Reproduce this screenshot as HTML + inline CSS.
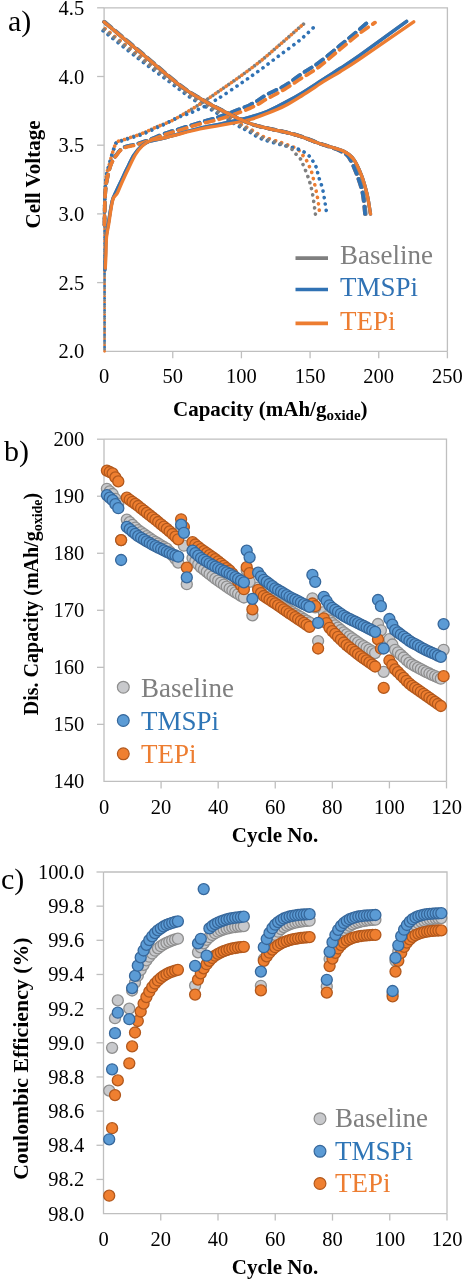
<!DOCTYPE html>
<html><head><meta charset="utf-8"><style>
html,body{margin:0;padding:0;background:#fff;width:464px;height:1280px;overflow:hidden}
svg{display:block;will-change:transform}
text{font-family:"Liberation Serif", serif}
</style></head><body>
<svg width="464" height="1280" viewBox="0 0 464 1280">
<rect width="464" height="1280" fill="#fff"/>
<path d="M104.1,7.8H447.4V351.3" fill="none" stroke="#bfbfbf" stroke-width="1.3"/>
<path d="M104.1,7.8V351.3H447.4" fill="none" stroke="#bfbfbf" stroke-width="1.3"/>
<path d="M97.1,7.8H104.1" stroke="#bfbfbf" stroke-width="1.3"/>
<path d="M97.1,76.5H104.1" stroke="#bfbfbf" stroke-width="1.3"/>
<path d="M97.1,145.20000000000002H104.1" stroke="#bfbfbf" stroke-width="1.3"/>
<path d="M97.1,213.9H104.1" stroke="#bfbfbf" stroke-width="1.3"/>
<path d="M97.1,282.6H104.1" stroke="#bfbfbf" stroke-width="1.3"/>
<path d="M172.76,351.3V358.3" stroke="#bfbfbf" stroke-width="1.3"/>
<path d="M241.42,351.3V358.3" stroke="#bfbfbf" stroke-width="1.3"/>
<path d="M310.0799999999999,351.3V358.3" stroke="#bfbfbf" stroke-width="1.3"/>
<path d="M378.74,351.3V358.3" stroke="#bfbfbf" stroke-width="1.3"/>
<path d="M447.4,351.3V358.3" stroke="#bfbfbf" stroke-width="1.3"/>
<path d="M104.6,351.3V220" stroke="#ed7d31" stroke-width="2.8" stroke-linecap="round" stroke-dasharray="0.1 6" fill="none"/>
<path d="M104.6,351.3V220" stroke="#3072b4" stroke-width="2.8" stroke-linecap="round" stroke-dasharray="0.1 6" stroke-dashoffset="2" fill="none"/>
<path d="M104.6,351.3V220" stroke="#7f7f7f" stroke-width="2.8" stroke-linecap="round" stroke-dasharray="0.1 6" stroke-dashoffset="4" fill="none"/>
<path d="M105.1,28.6 C111.1,33.3 129.8,48.2 141.0,56.9 C152.2,65.5 163.8,73.9 172.6,80.5 C181.4,87.1 186.9,91.8 194.1,96.5 C201.3,101.2 208.5,104.8 215.7,109.0 C222.9,113.2 231.3,118.6 237.2,122.0 C243.1,125.4 246.7,127.1 251.0,129.5 C255.3,131.9 258.3,134.4 263.3,136.6 C268.3,138.8 275.5,140.5 281.0,142.5 C286.5,144.5 292.8,146.6 296.2,148.4 C299.6,150.2 299.7,151.8 301.3,153.6 C302.9,155.4 304.6,157.3 305.9,159.4 C307.2,161.5 308.1,163.6 309.1,165.9 C310.1,168.2 310.6,168.2 311.9,173.0 C313.2,177.8 315.7,188.4 317.0,195.0 C318.3,201.6 319.2,209.6 319.6,212.5" fill="none" stroke="#ed7d31" stroke-width="3.6" stroke-linecap="round" stroke-dasharray="0.1 6.3"/>
<path d="M103.1,30.8 C109.1,35.5 127.8,50.5 139.0,59.1 C150.2,67.8 161.8,76.1 170.6,82.7 C179.4,89.3 184.9,94.0 192.1,98.7 C199.3,103.5 206.5,107.0 213.7,111.2 C220.9,115.5 229.3,120.8 235.2,124.2 C241.1,127.6 244.7,129.3 249.0,131.7 C253.3,134.1 256.3,136.7 261.3,138.8 C266.3,140.9 274.4,142.9 279.0,144.2 C283.6,145.5 286.0,146.0 289.0,146.8 C292.0,147.5 294.3,147.8 296.8,148.7 C299.3,149.5 301.8,150.6 303.9,151.9 C306.0,153.2 308.1,154.8 309.7,156.5 C311.3,158.2 312.4,160.3 313.6,162.3 C314.8,164.3 316.0,166.4 316.8,168.7 C317.6,170.9 317.3,172.2 318.3,175.8 C319.3,179.3 321.4,183.7 322.8,190.0 C324.2,196.3 326.1,209.6 326.7,213.5" fill="none" stroke="#3072b4" stroke-width="3.6" stroke-linecap="round" stroke-dasharray="0.1 6.3"/>
<path d="M104.1,29.6 C110.1,34.3 128.8,49.2 140.0,57.9 C151.2,66.5 162.8,74.9 171.6,81.5 C180.4,88.1 185.9,92.8 193.1,97.5 C200.3,102.2 207.5,105.8 214.7,110.0 C221.9,114.2 230.3,119.6 236.2,123.0 C242.1,126.4 245.7,128.1 250.0,130.5 C254.3,132.9 257.3,135.4 262.3,137.6 C267.3,139.8 275.4,141.8 280.0,143.5 C284.6,145.2 287.6,146.0 290.0,147.5 C292.4,149.0 292.9,151.0 294.5,152.7 C296.1,154.4 298.3,155.9 299.7,157.8 C301.1,159.7 301.5,161.0 302.9,164.3 C304.3,167.6 306.8,173.2 308.3,177.8 C309.9,182.4 311.0,186.1 312.2,192.1 C313.4,198.1 314.9,210.4 315.4,214.1" fill="none" stroke="#7f7f7f" stroke-width="3.6" stroke-linecap="round" stroke-dasharray="0.1 6.3"/>
<path d="M104.5,225.0 C104.5,220.8 104.5,208.0 104.8,200.0 C105.1,192.0 105.4,183.1 106.2,176.9 C107.0,170.8 108.6,167.4 109.7,163.1 C110.8,158.8 111.9,154.4 113.1,151.0 C114.2,147.6 115.0,144.2 116.6,142.4 C118.2,140.6 120.4,141.0 122.6,140.2 C124.8,139.4 126.9,138.7 129.5,137.8 C132.1,136.9 135.2,136.0 138.1,135.0 C141.0,134.0 143.8,132.8 146.7,131.6 C149.6,130.3 152.4,128.8 155.3,127.5 C158.2,126.2 160.7,125.4 164.0,124.0 C167.3,122.6 169.0,122.3 175.0,119.0 C181.0,115.7 192.5,108.8 200.0,104.0 C207.5,99.2 213.3,95.1 220.0,90.5 C226.7,85.9 233.3,81.3 240.0,76.5 C246.7,71.7 253.3,66.8 260.0,61.5 C266.7,56.2 273.3,50.2 280.0,44.5 C286.7,38.8 295.7,30.7 300.0,27.0 C304.3,23.3 304.7,23.1 305.6,22.3" fill="none" stroke="#7f7f7f" stroke-width="3.6" stroke-linecap="round" stroke-dasharray="0.1 6.3"/>
<path d="M104.5,225.0 C104.5,220.8 104.5,208.0 104.8,200.0 C105.1,192.0 105.4,183.1 106.2,176.9 C107.0,170.8 108.6,167.4 109.7,163.1 C110.8,158.8 111.9,154.4 113.1,151.0 C114.2,147.6 115.0,144.1 116.6,142.4 C118.2,140.7 120.4,141.4 122.6,140.7 C124.8,140.0 126.9,139.1 129.5,138.3 C132.1,137.5 135.2,136.8 138.1,135.8 C141.0,134.9 143.8,133.8 146.7,132.6 C149.6,131.4 152.6,129.8 155.3,128.5 C158.0,127.2 159.2,126.8 163.0,125.0 C166.8,123.2 172.7,119.8 178.0,117.5 C183.3,115.2 188.8,113.8 195.0,111.0 C201.2,108.2 207.5,105.0 215.0,100.5 C222.5,96.0 232.5,89.1 240.0,84.0 C247.5,78.9 253.3,74.8 260.0,70.0 C266.7,65.2 273.3,60.0 280.0,55.0 C286.7,50.0 294.2,44.8 300.0,40.0 C305.8,35.2 312.3,28.6 314.8,26.3" fill="none" stroke="#3072b4" stroke-width="3.6" stroke-linecap="round" stroke-dasharray="0.1 6.3"/>
<path d="M104.5,225.0 C104.5,220.8 104.5,208.0 104.8,200.0 C105.1,192.0 105.4,183.1 106.2,176.9 C107.0,170.8 108.6,167.4 109.7,163.1 C110.8,158.8 111.9,154.4 113.1,151.0 C114.2,147.6 115.0,144.2 116.6,142.4 C118.2,140.6 120.4,141.0 122.6,140.2 C124.8,139.4 126.9,138.7 129.5,137.8 C132.1,136.9 135.2,136.0 138.1,135.0 C141.0,134.0 143.8,132.8 146.7,131.6 C149.6,130.3 152.4,128.8 155.3,127.5 C158.2,126.2 160.7,125.4 164.0,124.0 C167.3,122.6 169.0,122.3 175.0,119.0 C181.0,115.7 192.5,108.8 200.0,104.0 C207.5,99.2 213.3,95.1 220.0,90.5 C226.7,85.9 233.3,81.3 240.0,76.5 C246.7,71.7 253.3,66.8 260.0,61.5 C266.7,56.2 273.3,50.2 280.0,44.5 C286.7,38.8 295.7,30.7 300.0,27.0 C304.3,23.3 304.7,23.1 305.6,22.3" fill="none" stroke="#ed7d31" stroke-width="3.6" stroke-linecap="round" stroke-dasharray="0.1 6.3" stroke-dashoffset="3.1"/>
<path d="M104.5,225.0 C104.6,219.6 104.7,200.7 105.3,192.4 C105.9,184.1 106.9,180.1 107.9,175.2 C108.9,170.3 110.0,166.5 111.4,163.1 C112.9,159.7 114.6,157.1 116.6,154.5 C118.6,151.9 120.4,149.3 123.4,147.6 C126.4,145.9 130.8,145.7 134.7,144.5 C138.6,143.3 141.8,142.5 146.7,140.7 C151.6,138.9 159.3,135.5 164.0,133.8 C168.7,132.1 169.0,132.2 175.0,130.3 C181.0,128.4 192.5,124.8 200.0,122.5 C207.5,120.2 211.7,119.5 220.0,116.5 C228.3,113.5 242.2,108.5 250.0,104.8 C257.8,101.1 261.2,97.7 267.0,94.5 C272.8,91.3 278.7,89.4 284.5,85.9 C290.3,82.5 295.9,77.7 301.7,73.8 C307.4,69.9 312.6,67.3 319.0,62.6 C325.4,57.9 333.2,51.1 340.0,45.5 C346.8,39.9 355.2,33.1 360.0,29.0 C364.8,24.9 367.5,22.3 369.0,21.0" fill="none" stroke="#7f7f7f" stroke-width="3.7" stroke-linecap="round" stroke-dasharray="8.5 5.5"/>
<path d="M104.5,225.0 C104.6,219.6 104.7,200.7 105.3,192.4 C105.9,184.1 106.9,180.1 107.9,175.2 C108.9,170.3 110.0,166.5 111.4,163.1 C112.9,159.7 114.6,157.1 116.6,154.5 C118.6,151.9 120.4,149.3 123.4,147.6 C126.4,145.9 130.8,145.7 134.7,144.5 C138.6,143.3 141.8,142.5 146.7,140.7 C151.6,138.9 159.3,135.5 164.0,133.8 C168.7,132.1 169.0,132.2 175.0,130.3 C181.0,128.4 192.5,124.8 200.0,122.5 C207.5,120.2 211.7,119.5 220.0,116.5 C228.3,113.5 242.2,108.5 250.0,104.8 C257.8,101.1 261.2,97.7 267.0,94.5 C272.8,91.3 278.7,89.4 284.5,85.9 C290.3,82.5 295.9,77.7 301.7,73.8 C307.4,69.9 312.6,67.3 319.0,62.6 C325.4,57.9 333.2,51.1 340.0,45.5 C346.8,39.9 355.2,33.1 360.0,29.0 C364.8,24.9 367.5,22.3 369.0,21.0" fill="none" stroke="#3072b4" stroke-width="3.7" stroke-linecap="round" stroke-dasharray="8.5 5.5"/>
<path d="M104.5,225.0 C104.6,219.6 104.7,200.7 105.3,192.4 C105.9,184.1 106.9,180.0 107.9,175.2 C108.9,170.4 110.0,167.0 111.4,163.6 C112.9,160.2 114.6,157.6 116.6,155.0 C118.6,152.4 120.4,149.8 123.4,148.2 C126.4,146.6 130.8,146.4 134.7,145.3 C138.6,144.2 141.8,143.2 146.7,141.5 C151.6,139.8 159.3,136.7 164.0,135.0 C168.7,133.3 169.0,133.3 175.0,131.5 C181.0,129.7 192.5,126.1 200.0,124.0 C207.5,121.9 211.7,121.6 220.0,119.0 C228.3,116.4 242.2,111.7 250.0,108.3 C257.8,104.9 261.2,102.0 267.0,98.8 C272.8,95.6 278.7,92.8 284.5,89.3 C290.3,85.8 295.9,81.8 301.7,78.1 C307.4,74.4 312.6,71.7 319.0,66.9 C325.4,62.1 333.2,55.0 340.0,49.4 C346.8,43.8 354.2,37.6 360.0,33.1 C365.8,28.6 372.5,24.4 375.0,22.6" fill="none" stroke="#ed7d31" stroke-width="3.7" stroke-linecap="round" stroke-dasharray="8.5 5.5"/>
<path d="M104.1,21.9 C110.1,26.9 127.3,41.4 140.0,52.0 C152.7,62.6 170.0,77.8 180.0,85.5 C190.0,93.2 193.3,94.5 200.0,98.5 C206.7,102.5 211.7,105.3 220.0,109.5 C228.3,113.7 241.7,120.3 250.0,123.5 C258.3,126.7 263.3,127.2 270.0,128.8 C276.7,130.4 284.5,131.9 290.0,133.3 C295.5,134.7 298.7,135.7 303.0,137.2 C307.3,138.7 311.7,140.7 316.0,142.3 C320.3,143.9 325.0,145.3 329.0,146.7 C333.0,148.1 336.8,149.1 340.0,150.8 C343.2,152.5 345.8,153.3 348.5,157.0 C351.2,160.7 353.7,166.8 356.0,172.7 C358.3,178.5 360.8,185.2 362.3,192.1 C363.8,199.0 364.6,210.3 365.0,214.0" fill="none" stroke="#ed7d31" stroke-width="3.7" stroke-linecap="round" stroke-dasharray="8.5 5.5"/>
<path d="M104.9,21.9 C110.9,26.9 128.2,41.4 140.8,52.0 C153.5,62.6 170.8,77.8 180.8,85.5 C190.8,93.2 194.1,94.5 200.8,98.5 C207.5,102.5 212.5,105.3 220.8,109.5 C229.1,113.7 242.5,120.3 250.8,123.5 C259.1,126.7 264.1,127.2 270.8,128.8 C277.5,130.4 285.3,131.9 290.8,133.3 C296.3,134.7 299.5,135.7 303.8,137.2 C308.1,138.7 312.5,140.7 316.8,142.3 C321.1,143.9 325.8,145.3 329.8,146.7 C333.8,148.1 337.6,149.1 340.8,150.8 C344.1,152.5 346.6,153.3 349.3,157.0 C352.0,160.7 354.5,166.8 356.8,172.7 C359.1,178.5 361.6,185.2 363.1,192.1 C364.6,199.0 365.4,210.3 365.8,214.0" fill="none" stroke="#7f7f7f" stroke-width="3.7" stroke-linecap="round" stroke-dasharray="8.5 5.5"/>
<path d="M104.1,21.9 C110.1,26.9 127.3,41.4 140.0,52.0 C152.7,62.6 170.0,77.8 180.0,85.5 C190.0,93.2 193.3,94.5 200.0,98.5 C206.7,102.5 211.7,105.3 220.0,109.5 C228.3,113.7 241.7,120.3 250.0,123.5 C258.3,126.7 263.3,127.2 270.0,128.8 C276.7,130.4 284.5,131.9 290.0,133.3 C295.5,134.7 298.7,135.7 303.0,137.2 C307.3,138.7 311.7,140.7 316.0,142.3 C320.3,143.9 325.0,145.3 329.0,146.7 C333.0,148.1 336.8,149.1 340.0,150.8 C343.2,152.5 345.8,153.3 348.5,157.0 C351.2,160.7 353.7,166.8 356.0,172.7 C358.3,178.5 360.8,185.2 362.3,192.1 C363.8,199.0 364.6,210.3 365.0,214.0" fill="none" stroke="#3072b4" stroke-width="3.7" stroke-linecap="round" stroke-dasharray="8.5 5.5"/>
<path d="M104.9,270.0 C105.0,267.7 105.2,261.3 105.4,256.0 C105.6,250.7 105.6,243.6 106.1,238.0 C106.6,232.4 107.5,228.7 108.5,222.5 C109.5,216.3 111.0,206.1 112.2,201.0 C113.4,195.9 114.4,195.3 115.9,192.0 C117.4,188.7 119.2,184.9 121.1,181.0 C123.0,177.1 124.9,172.6 127.1,168.3 C129.2,164.0 131.7,158.6 134.0,155.0 C136.3,151.4 138.5,148.8 141.0,146.5 C143.5,144.2 145.2,142.9 149.0,141.5 C152.8,140.1 155.5,140.3 164.0,138.1 C172.5,135.8 190.7,130.3 200.0,128.0 C209.3,125.7 211.7,125.8 220.0,124.0 C228.3,122.2 242.2,119.1 250.0,117.0 C257.8,114.9 261.2,113.9 267.0,111.5 C272.8,109.1 279.1,105.6 285.0,102.5 C290.9,99.4 295.5,96.9 302.2,92.8 C308.9,88.7 318.7,82.1 325.0,78.1 C331.3,74.0 334.2,72.3 340.0,68.5 C345.8,64.7 348.9,63.1 360.0,55.2 C371.1,47.3 398.8,27.0 406.6,21.3" fill="none" stroke="#7f7f7f" stroke-width="3.3" stroke-linecap="round"/>
<path d="M104.9,270.0 C105.0,267.7 105.2,261.3 105.4,256.0 C105.6,250.7 105.6,243.6 106.1,238.0 C106.6,232.4 107.5,228.7 108.5,222.5 C109.5,216.3 111.0,206.1 112.2,201.0 C113.4,195.9 114.4,195.3 115.9,192.0 C117.4,188.7 119.2,184.9 121.1,181.0 C123.0,177.1 124.9,172.6 127.1,168.3 C129.2,164.0 131.7,158.6 134.0,155.0 C136.3,151.4 138.5,148.8 141.0,146.5 C143.5,144.2 145.2,142.9 149.0,141.5 C152.8,140.1 155.5,140.3 164.0,138.1 C172.5,135.8 190.7,130.3 200.0,128.0 C209.3,125.7 211.7,125.8 220.0,124.0 C228.3,122.2 242.2,119.1 250.0,117.0 C257.8,114.9 261.2,113.9 267.0,111.5 C272.8,109.1 279.1,105.6 285.0,102.5 C290.9,99.4 295.5,96.9 302.2,92.8 C308.9,88.7 318.7,82.1 325.0,78.1 C331.3,74.0 334.2,72.3 340.0,68.5 C345.8,64.7 348.9,63.1 360.0,55.2 C371.1,47.3 398.8,27.0 406.6,21.3" fill="none" stroke="#3072b4" stroke-width="3.3" stroke-linecap="round"/>
<path d="M105.3,268.0 C105.4,266.0 105.7,261.1 105.9,256.0 C106.1,250.9 106.0,243.1 106.5,237.5 C107.0,231.9 108.0,228.8 109.0,222.5 C110.0,216.2 111.3,204.9 112.8,200.0 C114.2,195.1 115.8,196.2 117.4,193.0 C119.0,189.8 120.7,185.1 122.6,181.0 C124.5,176.9 126.4,172.7 128.6,168.3 C130.8,163.9 133.2,158.2 135.5,154.5 C137.8,150.8 140.0,148.2 142.4,145.9 C144.8,143.6 146.6,142.0 150.2,140.7 C153.8,139.3 155.7,139.8 164.0,137.8 C172.3,135.9 190.7,131.1 200.0,129.0 C209.3,127.0 211.7,127.1 220.0,125.5 C228.3,123.9 242.2,121.5 250.0,119.5 C257.8,117.5 261.2,115.8 267.0,113.5 C272.8,111.2 279.1,108.7 285.0,105.7 C290.9,102.7 295.5,99.7 302.2,95.5 C308.9,91.3 318.7,84.7 325.0,80.7 C331.3,76.8 334.2,75.5 340.0,71.8 C345.8,68.1 347.7,67.1 360.0,58.8 C372.3,50.5 404.8,28.0 413.7,21.8" fill="none" stroke="#ed7d31" stroke-width="3.3" stroke-linecap="round"/>
<path d="M104.1,21.9 C110.1,26.9 127.3,41.4 140.0,52.0 C152.7,62.6 170.0,77.8 180.0,85.5 C190.0,93.2 193.3,94.5 200.0,98.5 C206.7,102.5 211.7,105.3 220.0,109.5 C228.3,113.7 241.7,120.3 250.0,123.5 C258.3,126.7 263.3,127.2 270.0,128.8 C276.7,130.4 284.5,131.9 290.0,133.3 C295.5,134.7 298.7,135.7 303.0,137.2 C307.3,138.7 311.7,140.8 316.0,142.3 C320.3,143.9 324.4,145.0 329.0,146.5 C333.6,148.0 339.6,149.2 343.7,151.3 C347.8,153.4 350.5,155.1 353.4,159.0 C356.3,162.9 358.9,168.8 361.2,174.6 C363.5,180.4 365.4,187.4 367.0,194.0 C368.6,200.6 369.9,210.7 370.5,214.0" fill="none" stroke="#7f7f7f" stroke-width="3.3" stroke-linecap="round"/>
<path d="M104.1,21.9 C110.1,26.9 127.3,41.4 140.0,52.0 C152.7,62.6 170.0,77.8 180.0,85.5 C190.0,93.2 193.3,94.5 200.0,98.5 C206.7,102.5 211.7,105.3 220.0,109.5 C228.3,113.7 241.7,120.3 250.0,123.5 C258.3,126.7 263.3,127.2 270.0,128.8 C276.7,130.4 284.5,131.9 290.0,133.3 C295.5,134.7 298.7,135.7 303.0,137.2 C307.3,138.7 311.7,140.8 316.0,142.3 C320.3,143.9 324.4,145.0 329.0,146.5 C333.6,148.0 339.6,149.2 343.7,151.3 C347.8,153.4 350.5,155.1 353.4,159.0 C356.3,162.9 358.9,168.8 361.2,174.6 C363.5,180.4 365.4,187.4 367.0,194.0 C368.6,200.6 369.9,210.7 370.5,214.0" fill="none" stroke="#3072b4" stroke-width="3.3" stroke-linecap="round"/>
<path d="M104.1,21.9 C110.1,26.9 127.3,41.4 140.0,52.0 C152.7,62.6 170.0,77.8 180.0,85.5 C190.0,93.2 193.3,94.5 200.0,98.5 C206.7,102.5 211.7,105.3 220.0,109.5 C228.3,113.7 241.7,120.3 250.0,123.5 C258.3,126.7 263.3,127.2 270.0,128.8 C276.7,130.4 284.5,131.9 290.0,133.3 C295.5,134.7 298.7,135.7 303.0,137.2 C307.3,138.7 311.7,140.8 316.0,142.3 C320.3,143.9 324.4,145.0 329.0,146.5 C333.6,148.0 339.6,149.2 343.7,151.3 C347.8,153.4 350.5,155.1 353.4,159.0 C356.3,162.9 358.9,168.8 361.2,174.6 C363.5,180.4 365.4,187.4 367.0,194.0 C368.6,200.6 369.9,210.7 370.5,214.0" fill="none" stroke="#ed7d31" stroke-width="3.3" stroke-linecap="round"/>
<text x="84.2" y="14.8" font-size="20.5" text-anchor="end" font-weight="normal" fill="#000">4.5</text>
<text x="84.2" y="83.5" font-size="20.5" text-anchor="end" font-weight="normal" fill="#000">4.0</text>
<text x="84.2" y="152.20000000000002" font-size="20.5" text-anchor="end" font-weight="normal" fill="#000">3.5</text>
<text x="84.2" y="220.9" font-size="20.5" text-anchor="end" font-weight="normal" fill="#000">3.0</text>
<text x="84.2" y="289.6" font-size="20.5" text-anchor="end" font-weight="normal" fill="#000">2.5</text>
<text x="84.2" y="358.3" font-size="20.5" text-anchor="end" font-weight="normal" fill="#000">2.0</text>
<text x="104.1" y="383" font-size="20.5" text-anchor="middle" font-weight="normal" fill="#000">0</text>
<text x="172.76" y="383" font-size="20.5" text-anchor="middle" font-weight="normal" fill="#000">50</text>
<text x="241.42" y="383" font-size="20.5" text-anchor="middle" font-weight="normal" fill="#000">100</text>
<text x="310.0799999999999" y="383" font-size="20.5" text-anchor="middle" font-weight="normal" fill="#000">150</text>
<text x="378.74" y="383" font-size="20.5" text-anchor="middle" font-weight="normal" fill="#000">200</text>
<text x="447.4" y="383" font-size="20.5" text-anchor="middle" font-weight="normal" fill="#000">250</text>
<text x="173" y="416" font-size="21" text-anchor="start" font-weight="bold" fill="#000">Capacity (mAh/g<tspan font-size="15" dy="4">oxide</tspan><tspan dy="-4">)</tspan></text>
<text transform="translate(39.5,174.5) rotate(-90)" font-size="21" font-weight="bold" text-anchor="middle">Cell Voltage</text>
<text x="8" y="31" font-size="30" text-anchor="start" font-weight="normal" fill="#000">a)</text>
<path d="M295.5,258.1H328" stroke="#7f7f7f" stroke-width="3.6"/>
<text x="340" y="263.8" font-size="27" text-anchor="start" font-weight="normal" fill="#7f7f7f">Baseline</text>
<path d="M295.5,289.5H328" stroke="#3072b4" stroke-width="3.6"/>
<text x="340" y="296.09999999999997" font-size="27" text-anchor="start" font-weight="normal" fill="#3072b4">TMSPi</text>
<path d="M295.5,323.4H328" stroke="#ed7d31" stroke-width="3.6"/>
<text x="340" y="329.7" font-size="27" text-anchor="start" font-weight="normal" fill="#ed7d31">TEPi</text>
<path d="M104.0,439.2H446.5V781.4" fill="none" stroke="#bfbfbf" stroke-width="1.3"/>
<path d="M104.0,439.2V781.4H446.5" fill="none" stroke="#bfbfbf" stroke-width="1.3"/>
<path d="M97.0,439.2H104.0" stroke="#bfbfbf" stroke-width="1.3"/>
<path d="M97.0,496.23333333333335H104.0" stroke="#bfbfbf" stroke-width="1.3"/>
<path d="M97.0,553.2666666666667H104.0" stroke="#bfbfbf" stroke-width="1.3"/>
<path d="M97.0,610.3H104.0" stroke="#bfbfbf" stroke-width="1.3"/>
<path d="M97.0,667.3333333333333H104.0" stroke="#bfbfbf" stroke-width="1.3"/>
<path d="M97.0,724.3666666666667H104.0" stroke="#bfbfbf" stroke-width="1.3"/>
<path d="M161.08333333333334,781.4V788.4" stroke="#bfbfbf" stroke-width="1.3"/>
<path d="M218.16666666666669,781.4V788.4" stroke="#bfbfbf" stroke-width="1.3"/>
<path d="M275.25,781.4V788.4" stroke="#bfbfbf" stroke-width="1.3"/>
<path d="M332.33333333333337,781.4V788.4" stroke="#bfbfbf" stroke-width="1.3"/>
<path d="M389.4166666666667,781.4V788.4" stroke="#bfbfbf" stroke-width="1.3"/>
<path d="M446.5,781.4V788.4" stroke="#bfbfbf" stroke-width="1.3"/>
<text x="84.2" y="446.2" font-size="20.5" text-anchor="end" font-weight="normal" fill="#000">200</text>
<text x="84.2" y="503.23333333333335" font-size="20.5" text-anchor="end" font-weight="normal" fill="#000">190</text>
<text x="84.2" y="560.2666666666667" font-size="20.5" text-anchor="end" font-weight="normal" fill="#000">180</text>
<text x="84.2" y="617.3" font-size="20.5" text-anchor="end" font-weight="normal" fill="#000">170</text>
<text x="84.2" y="674.3333333333333" font-size="20.5" text-anchor="end" font-weight="normal" fill="#000">160</text>
<text x="84.2" y="731.3666666666667" font-size="20.5" text-anchor="end" font-weight="normal" fill="#000">150</text>
<text x="84.2" y="788.4" font-size="20.5" text-anchor="end" font-weight="normal" fill="#000">140</text>
<text x="104.0" y="813.5" font-size="20.5" text-anchor="middle" font-weight="normal" fill="#000">0</text>
<text x="161.08333333333334" y="813.5" font-size="20.5" text-anchor="middle" font-weight="normal" fill="#000">20</text>
<text x="218.16666666666669" y="813.5" font-size="20.5" text-anchor="middle" font-weight="normal" fill="#000">40</text>
<text x="275.25" y="813.5" font-size="20.5" text-anchor="middle" font-weight="normal" fill="#000">60</text>
<text x="332.33333333333337" y="813.5" font-size="20.5" text-anchor="middle" font-weight="normal" fill="#000">80</text>
<text x="389.4166666666667" y="813.5" font-size="20.5" text-anchor="middle" font-weight="normal" fill="#000">100</text>
<text x="446.5" y="813.5" font-size="20.5" text-anchor="middle" font-weight="normal" fill="#000">120</text>
<text x="275" y="842" font-size="21" text-anchor="middle" font-weight="bold" fill="#000">Cycle No.</text>
<text transform="translate(37.5,604) rotate(-90)" font-size="20" font-weight="bold" text-anchor="middle">Dis. Capacity (mAh/g<tspan font-size="14" dy="4">oxide</tspan><tspan dy="-4">)</tspan></text>
<text x="4" y="460.5" font-size="30" text-anchor="start" font-weight="normal" fill="#000">b)</text>
<g fill="#c8c9cc" stroke="#8e8e8e" stroke-width="1.3"><circle cx="106.9" cy="488.8" r="5.5"/><circle cx="109.7" cy="491.4" r="5.5"/><circle cx="112.6" cy="494.0" r="5.5"/><circle cx="115.4" cy="498.8" r="5.5"/><circle cx="118.3" cy="503.6" r="5.5"/><circle cx="126.8" cy="519.6" r="5.5"/><circle cx="129.7" cy="522.2" r="5.5"/><circle cx="132.5" cy="524.9" r="5.5"/><circle cx="135.4" cy="527.6" r="5.5"/><circle cx="138.2" cy="530.2" r="5.5"/><circle cx="141.1" cy="532.1" r="5.5"/><circle cx="144.0" cy="534.1" r="5.5"/><circle cx="146.8" cy="536.1" r="5.5"/><circle cx="149.7" cy="538.1" r="5.5"/><circle cx="152.5" cy="540.1" r="5.5"/><circle cx="155.4" cy="541.8" r="5.5"/><circle cx="158.2" cy="543.5" r="5.5"/><circle cx="161.1" cy="545.3" r="5.5"/><circle cx="163.9" cy="547.0" r="5.5"/><circle cx="166.8" cy="548.7" r="5.5"/><circle cx="169.6" cy="551.6" r="5.5"/><circle cx="172.5" cy="555.3" r="5.5"/><circle cx="175.4" cy="558.9" r="5.5"/><circle cx="178.2" cy="562.6" r="5.5"/><circle cx="192.5" cy="558.1" r="5.5"/><circle cx="195.3" cy="561.2" r="5.5"/><circle cx="198.2" cy="564.4" r="5.5"/><circle cx="201.0" cy="567.4" r="5.5"/><circle cx="203.9" cy="569.6" r="5.5"/><circle cx="206.8" cy="571.9" r="5.5"/><circle cx="209.6" cy="574.2" r="5.5"/><circle cx="212.5" cy="576.4" r="5.5"/><circle cx="215.3" cy="578.7" r="5.5"/><circle cx="218.2" cy="580.7" r="5.5"/><circle cx="221.0" cy="582.7" r="5.5"/><circle cx="223.9" cy="584.7" r="5.5"/><circle cx="226.7" cy="586.7" r="5.5"/><circle cx="229.6" cy="588.7" r="5.5"/><circle cx="232.4" cy="590.5" r="5.5"/><circle cx="235.3" cy="592.3" r="5.5"/><circle cx="238.1" cy="594.0" r="5.5"/><circle cx="241.0" cy="595.8" r="5.5"/><circle cx="243.9" cy="597.5" r="5.5"/><circle cx="258.1" cy="587.5" r="5.5"/><circle cx="261.0" cy="590.2" r="5.5"/><circle cx="263.8" cy="592.6" r="5.5"/><circle cx="266.7" cy="594.6" r="5.5"/><circle cx="269.5" cy="596.6" r="5.5"/><circle cx="272.4" cy="598.6" r="5.5"/><circle cx="275.2" cy="600.6" r="5.5"/><circle cx="278.1" cy="602.5" r="5.5"/><circle cx="281.0" cy="604.5" r="5.5"/><circle cx="283.8" cy="606.4" r="5.5"/><circle cx="286.7" cy="608.4" r="5.5"/><circle cx="289.5" cy="610.3" r="5.5"/><circle cx="292.4" cy="612.1" r="5.5"/><circle cx="295.2" cy="613.8" r="5.5"/><circle cx="298.1" cy="615.5" r="5.5"/><circle cx="300.9" cy="617.2" r="5.5"/><circle cx="303.8" cy="619.0" r="5.5"/><circle cx="306.6" cy="620.7" r="5.5"/><circle cx="309.5" cy="622.4" r="5.5"/><circle cx="323.8" cy="612.2" r="5.5"/><circle cx="326.6" cy="616.3" r="5.5"/><circle cx="329.5" cy="620.5" r="5.5"/><circle cx="332.3" cy="623.1" r="5.5"/><circle cx="335.2" cy="625.4" r="5.5"/><circle cx="338.0" cy="627.7" r="5.5"/><circle cx="340.9" cy="630.0" r="5.5"/><circle cx="343.8" cy="632.3" r="5.5"/><circle cx="346.6" cy="634.4" r="5.5"/><circle cx="349.5" cy="636.4" r="5.5"/><circle cx="352.3" cy="638.4" r="5.5"/><circle cx="355.2" cy="640.4" r="5.5"/><circle cx="358.0" cy="642.4" r="5.5"/><circle cx="360.9" cy="644.3" r="5.5"/><circle cx="363.7" cy="646.1" r="5.5"/><circle cx="366.6" cy="647.8" r="5.5"/><circle cx="369.4" cy="649.6" r="5.5"/><circle cx="372.3" cy="651.3" r="5.5"/><circle cx="375.1" cy="653.1" r="5.5"/><circle cx="389.4" cy="639.2" r="5.5"/><circle cx="392.3" cy="644.5" r="5.5"/><circle cx="395.1" cy="649.8" r="5.5"/><circle cx="398.0" cy="652.3" r="5.5"/><circle cx="400.8" cy="654.9" r="5.5"/><circle cx="403.7" cy="657.5" r="5.5"/><circle cx="406.5" cy="660.1" r="5.5"/><circle cx="409.4" cy="662.6" r="5.5"/><circle cx="412.2" cy="664.5" r="5.5"/><circle cx="415.1" cy="666.1" r="5.5"/><circle cx="418.0" cy="667.6" r="5.5"/><circle cx="420.8" cy="669.2" r="5.5"/><circle cx="423.7" cy="670.7" r="5.5"/><circle cx="426.5" cy="672.2" r="5.5"/><circle cx="429.4" cy="673.5" r="5.5"/><circle cx="432.2" cy="674.8" r="5.5"/><circle cx="435.1" cy="676.1" r="5.5"/><circle cx="437.9" cy="677.4" r="5.5"/><circle cx="440.8" cy="678.7" r="5.5"/><circle cx="121.1" cy="540.1" r="5.5"/><circle cx="181.1" cy="528.7" r="5.5"/><circle cx="183.9" cy="545.7" r="5.5"/><circle cx="186.8" cy="584.2" r="5.5"/><circle cx="246.7" cy="570.4" r="5.5"/><circle cx="249.6" cy="581.8" r="5.5"/><circle cx="252.4" cy="615.4" r="5.5"/><circle cx="312.4" cy="598.3" r="5.5"/><circle cx="315.2" cy="607.4" r="5.5"/><circle cx="318.1" cy="641.1" r="5.5"/><circle cx="378.0" cy="624.0" r="5.5"/><circle cx="380.9" cy="630.3" r="5.5"/><circle cx="383.7" cy="671.9" r="5.5"/><circle cx="443.6" cy="649.8" r="5.5"/></g>
<g fill="#ef7f30" stroke="#b2581c" stroke-width="1.3"><circle cx="106.9" cy="470.6" r="5.5"/><circle cx="109.7" cy="472.0" r="5.5"/><circle cx="112.6" cy="473.4" r="5.5"/><circle cx="115.4" cy="477.4" r="5.5"/><circle cx="118.3" cy="481.4" r="5.5"/><circle cx="126.8" cy="497.7" r="5.5"/><circle cx="129.7" cy="499.8" r="5.5"/><circle cx="132.5" cy="501.8" r="5.5"/><circle cx="135.4" cy="503.9" r="5.5"/><circle cx="138.2" cy="506.0" r="5.5"/><circle cx="141.1" cy="508.3" r="5.5"/><circle cx="144.0" cy="510.6" r="5.5"/><circle cx="146.8" cy="512.9" r="5.5"/><circle cx="149.7" cy="515.2" r="5.5"/><circle cx="152.5" cy="517.4" r="5.5"/><circle cx="155.4" cy="519.7" r="5.5"/><circle cx="158.2" cy="522.0" r="5.5"/><circle cx="161.1" cy="524.3" r="5.5"/><circle cx="163.9" cy="526.6" r="5.5"/><circle cx="166.8" cy="528.9" r="5.5"/><circle cx="169.6" cy="531.4" r="5.5"/><circle cx="172.5" cy="534.0" r="5.5"/><circle cx="175.4" cy="536.7" r="5.5"/><circle cx="178.2" cy="539.3" r="5.5"/><circle cx="192.5" cy="542.2" r="5.5"/><circle cx="195.3" cy="544.5" r="5.5"/><circle cx="198.2" cy="546.8" r="5.5"/><circle cx="201.0" cy="549.1" r="5.5"/><circle cx="203.9" cy="551.1" r="5.5"/><circle cx="206.8" cy="553.1" r="5.5"/><circle cx="209.6" cy="555.1" r="5.5"/><circle cx="212.5" cy="557.1" r="5.5"/><circle cx="215.3" cy="559.1" r="5.5"/><circle cx="218.2" cy="561.4" r="5.5"/><circle cx="221.0" cy="563.6" r="5.5"/><circle cx="223.9" cy="565.9" r="5.5"/><circle cx="226.7" cy="568.2" r="5.5"/><circle cx="229.6" cy="570.5" r="5.5"/><circle cx="232.4" cy="573.7" r="5.5"/><circle cx="235.3" cy="577.6" r="5.5"/><circle cx="238.1" cy="581.5" r="5.5"/><circle cx="241.0" cy="585.3" r="5.5"/><circle cx="243.9" cy="589.2" r="5.5"/><circle cx="258.1" cy="589.8" r="5.5"/><circle cx="261.0" cy="593.1" r="5.5"/><circle cx="263.8" cy="596.0" r="5.5"/><circle cx="266.7" cy="597.9" r="5.5"/><circle cx="269.5" cy="599.7" r="5.5"/><circle cx="272.4" cy="601.6" r="5.5"/><circle cx="275.2" cy="603.4" r="5.5"/><circle cx="278.1" cy="605.4" r="5.5"/><circle cx="281.0" cy="607.4" r="5.5"/><circle cx="283.8" cy="609.3" r="5.5"/><circle cx="286.7" cy="611.3" r="5.5"/><circle cx="289.5" cy="613.3" r="5.5"/><circle cx="292.4" cy="615.2" r="5.5"/><circle cx="295.2" cy="617.2" r="5.5"/><circle cx="298.1" cy="619.1" r="5.5"/><circle cx="300.9" cy="621.0" r="5.5"/><circle cx="303.8" cy="622.9" r="5.5"/><circle cx="306.6" cy="624.8" r="5.5"/><circle cx="309.5" cy="626.8" r="5.5"/><circle cx="323.8" cy="618.3" r="5.5"/><circle cx="326.6" cy="623.1" r="5.5"/><circle cx="329.5" cy="627.8" r="5.5"/><circle cx="332.3" cy="631.1" r="5.5"/><circle cx="335.2" cy="633.9" r="5.5"/><circle cx="338.0" cy="636.8" r="5.5"/><circle cx="340.9" cy="639.7" r="5.5"/><circle cx="343.8" cy="642.5" r="5.5"/><circle cx="346.6" cy="645.1" r="5.5"/><circle cx="349.5" cy="647.4" r="5.5"/><circle cx="352.3" cy="649.6" r="5.5"/><circle cx="355.2" cy="651.9" r="5.5"/><circle cx="358.0" cy="654.2" r="5.5"/><circle cx="360.9" cy="656.4" r="5.5"/><circle cx="363.7" cy="658.4" r="5.5"/><circle cx="366.6" cy="660.4" r="5.5"/><circle cx="369.4" cy="662.4" r="5.5"/><circle cx="372.3" cy="664.5" r="5.5"/><circle cx="375.1" cy="666.5" r="5.5"/><circle cx="389.4" cy="660.5" r="5.5"/><circle cx="392.3" cy="665.0" r="5.5"/><circle cx="395.1" cy="669.4" r="5.5"/><circle cx="398.0" cy="672.2" r="5.5"/><circle cx="400.8" cy="675.1" r="5.5"/><circle cx="403.7" cy="677.9" r="5.5"/><circle cx="406.5" cy="680.8" r="5.5"/><circle cx="409.4" cy="683.6" r="5.5"/><circle cx="412.2" cy="685.9" r="5.5"/><circle cx="415.1" cy="687.9" r="5.5"/><circle cx="418.0" cy="689.8" r="5.5"/><circle cx="420.8" cy="691.8" r="5.5"/><circle cx="423.7" cy="693.8" r="5.5"/><circle cx="426.5" cy="695.8" r="5.5"/><circle cx="429.4" cy="697.9" r="5.5"/><circle cx="432.2" cy="699.9" r="5.5"/><circle cx="435.1" cy="701.9" r="5.5"/><circle cx="437.9" cy="704.0" r="5.5"/><circle cx="440.8" cy="706.0" r="5.5"/><circle cx="121.1" cy="540.1" r="5.5"/><circle cx="181.1" cy="519.3" r="5.5"/><circle cx="183.9" cy="527.0" r="5.5"/><circle cx="186.8" cy="567.6" r="5.5"/><circle cx="246.7" cy="567.2" r="5.5"/><circle cx="249.6" cy="573.2" r="5.5"/><circle cx="252.4" cy="609.4" r="5.5"/><circle cx="312.4" cy="603.5" r="5.5"/><circle cx="315.2" cy="606.2" r="5.5"/><circle cx="318.1" cy="648.5" r="5.5"/><circle cx="378.0" cy="639.4" r="5.5"/><circle cx="380.9" cy="648.5" r="5.5"/><circle cx="383.7" cy="687.9" r="5.5"/><circle cx="443.6" cy="676.2" r="5.5"/></g>
<g fill="#5b9bd5" stroke="#36679b" stroke-width="1.3"><circle cx="106.9" cy="495.1" r="5.5"/><circle cx="109.7" cy="497.7" r="5.5"/><circle cx="112.6" cy="500.2" r="5.5"/><circle cx="115.4" cy="504.2" r="5.5"/><circle cx="118.3" cy="508.2" r="5.5"/><circle cx="126.8" cy="526.9" r="5.5"/><circle cx="129.7" cy="529.2" r="5.5"/><circle cx="132.5" cy="531.6" r="5.5"/><circle cx="135.4" cy="533.9" r="5.5"/><circle cx="138.2" cy="536.2" r="5.5"/><circle cx="141.1" cy="537.9" r="5.5"/><circle cx="144.0" cy="539.6" r="5.5"/><circle cx="146.8" cy="541.3" r="5.5"/><circle cx="149.7" cy="543.0" r="5.5"/><circle cx="152.5" cy="544.7" r="5.5"/><circle cx="155.4" cy="546.2" r="5.5"/><circle cx="158.2" cy="547.6" r="5.5"/><circle cx="161.1" cy="549.0" r="5.5"/><circle cx="163.9" cy="550.4" r="5.5"/><circle cx="166.8" cy="551.8" r="5.5"/><circle cx="169.6" cy="553.1" r="5.5"/><circle cx="172.5" cy="554.3" r="5.5"/><circle cx="175.4" cy="555.5" r="5.5"/><circle cx="178.2" cy="556.7" r="5.5"/><circle cx="192.5" cy="550.6" r="5.5"/><circle cx="195.3" cy="553.1" r="5.5"/><circle cx="198.2" cy="555.7" r="5.5"/><circle cx="201.0" cy="558.1" r="5.5"/><circle cx="203.9" cy="559.8" r="5.5"/><circle cx="206.8" cy="561.6" r="5.5"/><circle cx="209.6" cy="563.3" r="5.5"/><circle cx="212.5" cy="565.0" r="5.5"/><circle cx="215.3" cy="566.7" r="5.5"/><circle cx="218.2" cy="568.2" r="5.5"/><circle cx="221.0" cy="569.6" r="5.5"/><circle cx="223.9" cy="571.0" r="5.5"/><circle cx="226.7" cy="572.4" r="5.5"/><circle cx="229.6" cy="573.8" r="5.5"/><circle cx="232.4" cy="575.4" r="5.5"/><circle cx="235.3" cy="577.2" r="5.5"/><circle cx="238.1" cy="578.9" r="5.5"/><circle cx="241.0" cy="580.7" r="5.5"/><circle cx="243.9" cy="582.4" r="5.5"/><circle cx="258.1" cy="572.7" r="5.5"/><circle cx="261.0" cy="576.5" r="5.5"/><circle cx="263.8" cy="579.8" r="5.5"/><circle cx="266.7" cy="581.9" r="5.5"/><circle cx="269.5" cy="584.0" r="5.5"/><circle cx="272.4" cy="586.2" r="5.5"/><circle cx="275.2" cy="588.3" r="5.5"/><circle cx="278.1" cy="590.0" r="5.5"/><circle cx="281.0" cy="591.7" r="5.5"/><circle cx="283.8" cy="593.4" r="5.5"/><circle cx="286.7" cy="595.1" r="5.5"/><circle cx="289.5" cy="596.8" r="5.5"/><circle cx="292.4" cy="598.3" r="5.5"/><circle cx="295.2" cy="599.7" r="5.5"/><circle cx="298.1" cy="601.2" r="5.5"/><circle cx="300.9" cy="602.6" r="5.5"/><circle cx="303.8" cy="604.1" r="5.5"/><circle cx="306.6" cy="605.5" r="5.5"/><circle cx="309.5" cy="606.9" r="5.5"/><circle cx="323.8" cy="596.8" r="5.5"/><circle cx="326.6" cy="601.0" r="5.5"/><circle cx="329.5" cy="605.3" r="5.5"/><circle cx="332.3" cy="607.8" r="5.5"/><circle cx="335.2" cy="609.8" r="5.5"/><circle cx="338.0" cy="611.8" r="5.5"/><circle cx="340.9" cy="613.8" r="5.5"/><circle cx="343.8" cy="615.8" r="5.5"/><circle cx="346.6" cy="617.5" r="5.5"/><circle cx="349.5" cy="618.9" r="5.5"/><circle cx="352.3" cy="620.3" r="5.5"/><circle cx="355.2" cy="621.7" r="5.5"/><circle cx="358.0" cy="623.1" r="5.5"/><circle cx="360.9" cy="624.6" r="5.5"/><circle cx="363.7" cy="626.0" r="5.5"/><circle cx="366.6" cy="627.5" r="5.5"/><circle cx="369.4" cy="628.9" r="5.5"/><circle cx="372.3" cy="630.4" r="5.5"/><circle cx="375.1" cy="631.8" r="5.5"/><circle cx="389.4" cy="619.0" r="5.5"/><circle cx="392.3" cy="624.6" r="5.5"/><circle cx="395.1" cy="630.2" r="5.5"/><circle cx="398.0" cy="632.3" r="5.5"/><circle cx="400.8" cy="634.5" r="5.5"/><circle cx="403.7" cy="636.6" r="5.5"/><circle cx="406.5" cy="638.7" r="5.5"/><circle cx="409.4" cy="640.9" r="5.5"/><circle cx="412.2" cy="642.6" r="5.5"/><circle cx="415.1" cy="644.1" r="5.5"/><circle cx="418.0" cy="645.7" r="5.5"/><circle cx="420.8" cy="647.3" r="5.5"/><circle cx="423.7" cy="648.8" r="5.5"/><circle cx="426.5" cy="650.3" r="5.5"/><circle cx="429.4" cy="651.6" r="5.5"/><circle cx="432.2" cy="652.9" r="5.5"/><circle cx="435.1" cy="654.2" r="5.5"/><circle cx="437.9" cy="655.6" r="5.5"/><circle cx="440.8" cy="656.9" r="5.5"/><circle cx="121.1" cy="560.0" r="5.5"/><circle cx="181.1" cy="524.6" r="5.5"/><circle cx="183.9" cy="532.8" r="5.5"/><circle cx="186.8" cy="577.4" r="5.5"/><circle cx="246.7" cy="550.6" r="5.5"/><circle cx="249.6" cy="557.3" r="5.5"/><circle cx="252.4" cy="598.9" r="5.5"/><circle cx="312.4" cy="574.9" r="5.5"/><circle cx="315.2" cy="581.8" r="5.5"/><circle cx="318.1" cy="622.8" r="5.5"/><circle cx="378.0" cy="600.0" r="5.5"/><circle cx="380.9" cy="606.2" r="5.5"/><circle cx="383.7" cy="648.5" r="5.5"/><circle cx="443.6" cy="624.1" r="5.5"/></g>
<circle cx="123.3" cy="687.2" r="5.9" fill="#c8c9cc" stroke="#8e8e8e" stroke-width="1.2"/>
<text x="141" y="696.5" font-size="27" text-anchor="start" font-weight="normal" fill="#7f7f7f">Baseline</text>
<circle cx="123.3" cy="720.5" r="5.9" fill="#5b9bd5" stroke="#36679b" stroke-width="1.2"/>
<text x="141" y="729.8" font-size="27" text-anchor="start" font-weight="normal" fill="#2e75b6">TMSPi</text>
<circle cx="123.3" cy="753.8" r="5.9" fill="#ef7f30" stroke="#b2581c" stroke-width="1.2"/>
<text x="141" y="763.0999999999999" font-size="27" text-anchor="start" font-weight="normal" fill="#ed7d31">TEPi</text>
<path d="M103.5,872.0H447.0V1213.6" fill="none" stroke="#bfbfbf" stroke-width="1.3"/>
<path d="M103.5,872.0V1213.6H447.0" fill="none" stroke="#bfbfbf" stroke-width="1.3"/>
<path d="M96.5,872.0H103.5" stroke="#bfbfbf" stroke-width="1.3"/>
<path d="M96.5,906.16H103.5" stroke="#bfbfbf" stroke-width="1.3"/>
<path d="M96.5,940.3199999999999H103.5" stroke="#bfbfbf" stroke-width="1.3"/>
<path d="M96.5,974.48H103.5" stroke="#bfbfbf" stroke-width="1.3"/>
<path d="M96.5,1008.64H103.5" stroke="#bfbfbf" stroke-width="1.3"/>
<path d="M96.5,1042.8H103.5" stroke="#bfbfbf" stroke-width="1.3"/>
<path d="M96.5,1076.96H103.5" stroke="#bfbfbf" stroke-width="1.3"/>
<path d="M96.5,1111.12H103.5" stroke="#bfbfbf" stroke-width="1.3"/>
<path d="M96.5,1145.28H103.5" stroke="#bfbfbf" stroke-width="1.3"/>
<path d="M96.5,1179.44H103.5" stroke="#bfbfbf" stroke-width="1.3"/>
<path d="M160.75,1213.6V1220.6" stroke="#bfbfbf" stroke-width="1.3"/>
<path d="M218.0,1213.6V1220.6" stroke="#bfbfbf" stroke-width="1.3"/>
<path d="M275.25,1213.6V1220.6" stroke="#bfbfbf" stroke-width="1.3"/>
<path d="M332.5,1213.6V1220.6" stroke="#bfbfbf" stroke-width="1.3"/>
<path d="M389.75,1213.6V1220.6" stroke="#bfbfbf" stroke-width="1.3"/>
<path d="M447.0,1213.6V1220.6" stroke="#bfbfbf" stroke-width="1.3"/>
<text x="84.2" y="879.0" font-size="20.5" text-anchor="end" font-weight="normal" fill="#000">100.0</text>
<text x="84.2" y="913.16" font-size="20.5" text-anchor="end" font-weight="normal" fill="#000">99.8</text>
<text x="84.2" y="947.3199999999999" font-size="20.5" text-anchor="end" font-weight="normal" fill="#000">99.6</text>
<text x="84.2" y="981.48" font-size="20.5" text-anchor="end" font-weight="normal" fill="#000">99.4</text>
<text x="84.2" y="1015.64" font-size="20.5" text-anchor="end" font-weight="normal" fill="#000">99.2</text>
<text x="84.2" y="1049.8" font-size="20.5" text-anchor="end" font-weight="normal" fill="#000">99.0</text>
<text x="84.2" y="1083.96" font-size="20.5" text-anchor="end" font-weight="normal" fill="#000">98.8</text>
<text x="84.2" y="1118.12" font-size="20.5" text-anchor="end" font-weight="normal" fill="#000">98.6</text>
<text x="84.2" y="1152.28" font-size="20.5" text-anchor="end" font-weight="normal" fill="#000">98.4</text>
<text x="84.2" y="1186.44" font-size="20.5" text-anchor="end" font-weight="normal" fill="#000">98.2</text>
<text x="84.2" y="1220.6" font-size="20.5" text-anchor="end" font-weight="normal" fill="#000">98.0</text>
<text x="103.5" y="1245.5" font-size="20.5" text-anchor="middle" font-weight="normal" fill="#000">0</text>
<text x="160.75" y="1245.5" font-size="20.5" text-anchor="middle" font-weight="normal" fill="#000">20</text>
<text x="218.0" y="1245.5" font-size="20.5" text-anchor="middle" font-weight="normal" fill="#000">40</text>
<text x="275.25" y="1245.5" font-size="20.5" text-anchor="middle" font-weight="normal" fill="#000">60</text>
<text x="332.5" y="1245.5" font-size="20.5" text-anchor="middle" font-weight="normal" fill="#000">80</text>
<text x="389.75" y="1245.5" font-size="20.5" text-anchor="middle" font-weight="normal" fill="#000">100</text>
<text x="447.0" y="1245.5" font-size="20.5" text-anchor="middle" font-weight="normal" fill="#000">120</text>
<text x="275" y="1273.7" font-size="21" text-anchor="middle" font-weight="bold" fill="#000">Cycle No.</text>
<text transform="translate(27.8,1058.6) rotate(-90)" font-size="21.8" font-weight="bold" text-anchor="middle">Coulombic Efficiency (%)</text>
<text x="1" y="889" font-size="30" text-anchor="start" font-weight="normal" fill="#000">c)</text>
<g fill="#c8c9cc" stroke="#8e8e8e" stroke-width="1.3"><circle cx="109.2" cy="1090.6" r="5.5"/><circle cx="112.1" cy="1047.8" r="5.5"/><circle cx="115.0" cy="1018.2" r="5.5"/><circle cx="117.8" cy="1000.4" r="5.5"/><circle cx="129.3" cy="1008.6" r="5.5"/><circle cx="132.1" cy="990.5" r="5.5"/><circle cx="135.0" cy="982.6" r="5.5"/><circle cx="137.8" cy="975.7" r="5.5"/><circle cx="140.7" cy="969.9" r="5.5"/><circle cx="143.6" cy="964.8" r="5.5"/><circle cx="146.4" cy="960.4" r="5.5"/><circle cx="149.3" cy="956.7" r="5.5"/><circle cx="152.2" cy="953.5" r="5.5"/><circle cx="155.0" cy="950.7" r="5.5"/><circle cx="157.9" cy="948.3" r="5.5"/><circle cx="160.8" cy="946.2" r="5.5"/><circle cx="163.6" cy="944.4" r="5.5"/><circle cx="166.5" cy="942.9" r="5.5"/><circle cx="169.3" cy="941.6" r="5.5"/><circle cx="172.2" cy="940.5" r="5.5"/><circle cx="175.1" cy="939.5" r="5.5"/><circle cx="177.9" cy="938.7" r="5.5"/><circle cx="195.1" cy="985.6" r="5.5"/><circle cx="198.0" cy="952.3" r="5.5"/><circle cx="200.8" cy="947.3" r="5.5"/><circle cx="203.7" cy="943.3" r="5.5"/><circle cx="206.6" cy="939.9" r="5.5"/><circle cx="209.4" cy="937.2" r="5.5"/><circle cx="212.3" cy="935.0" r="5.5"/><circle cx="215.1" cy="933.2" r="5.5"/><circle cx="218.0" cy="931.7" r="5.5"/><circle cx="220.9" cy="930.5" r="5.5"/><circle cx="223.7" cy="929.5" r="5.5"/><circle cx="226.6" cy="928.6" r="5.5"/><circle cx="229.4" cy="928.0" r="5.5"/><circle cx="232.3" cy="927.4" r="5.5"/><circle cx="235.2" cy="927.0" r="5.5"/><circle cx="238.0" cy="926.6" r="5.5"/><circle cx="240.9" cy="926.3" r="5.5"/><circle cx="243.8" cy="926.1" r="5.5"/><circle cx="260.9" cy="985.8" r="5.5"/><circle cx="263.8" cy="959.1" r="5.5"/><circle cx="266.7" cy="950.7" r="5.5"/><circle cx="269.5" cy="944.1" r="5.5"/><circle cx="272.4" cy="938.9" r="5.5"/><circle cx="275.2" cy="934.9" r="5.5"/><circle cx="278.1" cy="931.7" r="5.5"/><circle cx="281.0" cy="929.1" r="5.5"/><circle cx="283.8" cy="927.1" r="5.5"/><circle cx="286.7" cy="925.6" r="5.5"/><circle cx="289.6" cy="924.4" r="5.5"/><circle cx="292.4" cy="923.4" r="5.5"/><circle cx="295.3" cy="922.6" r="5.5"/><circle cx="298.1" cy="922.0" r="5.5"/><circle cx="301.0" cy="921.6" r="5.5"/><circle cx="303.9" cy="921.2" r="5.5"/><circle cx="306.7" cy="920.9" r="5.5"/><circle cx="309.6" cy="920.7" r="5.5"/><circle cx="326.8" cy="986.4" r="5.5"/><circle cx="329.6" cy="959.1" r="5.5"/><circle cx="332.5" cy="950.2" r="5.5"/><circle cx="335.4" cy="943.3" r="5.5"/><circle cx="338.2" cy="937.9" r="5.5"/><circle cx="341.1" cy="933.7" r="5.5"/><circle cx="343.9" cy="930.5" r="5.5"/><circle cx="346.8" cy="927.9" r="5.5"/><circle cx="349.7" cy="925.9" r="5.5"/><circle cx="352.5" cy="924.4" r="5.5"/><circle cx="355.4" cy="923.2" r="5.5"/><circle cx="358.3" cy="922.3" r="5.5"/><circle cx="361.1" cy="921.5" r="5.5"/><circle cx="364.0" cy="921.0" r="5.5"/><circle cx="366.9" cy="920.5" r="5.5"/><circle cx="369.7" cy="920.2" r="5.5"/><circle cx="372.6" cy="919.9" r="5.5"/><circle cx="375.4" cy="919.7" r="5.5"/><circle cx="392.6" cy="993.3" r="5.5"/><circle cx="395.5" cy="960.8" r="5.5"/><circle cx="398.3" cy="951.2" r="5.5"/><circle cx="401.2" cy="943.7" r="5.5"/><circle cx="404.1" cy="937.8" r="5.5"/><circle cx="406.9" cy="933.3" r="5.5"/><circle cx="409.8" cy="929.7" r="5.5"/><circle cx="412.6" cy="927.0" r="5.5"/><circle cx="415.5" cy="924.8" r="5.5"/><circle cx="418.4" cy="923.2" r="5.5"/><circle cx="421.2" cy="921.9" r="5.5"/><circle cx="424.1" cy="920.8" r="5.5"/><circle cx="427.0" cy="920.0" r="5.5"/><circle cx="429.8" cy="919.4" r="5.5"/><circle cx="432.7" cy="919.0" r="5.5"/><circle cx="435.6" cy="918.6" r="5.5"/><circle cx="438.4" cy="918.3" r="5.5"/><circle cx="441.3" cy="918.1" r="5.5"/></g>
<g fill="#ef7f30" stroke="#b2581c" stroke-width="1.3"><circle cx="109.2" cy="1195.7" r="5.5"/><circle cx="112.1" cy="1128.2" r="5.5"/><circle cx="115.0" cy="1095.1" r="5.5"/><circle cx="117.8" cy="1080.4" r="5.5"/><circle cx="129.3" cy="1063.3" r="5.5"/><circle cx="132.1" cy="1046.4" r="5.5"/><circle cx="135.0" cy="1032.5" r="5.5"/><circle cx="137.8" cy="1021.0" r="5.5"/><circle cx="140.7" cy="1011.5" r="5.5"/><circle cx="143.6" cy="1003.6" r="5.5"/><circle cx="146.4" cy="997.1" r="5.5"/><circle cx="149.3" cy="991.7" r="5.5"/><circle cx="152.2" cy="987.2" r="5.5"/><circle cx="155.0" cy="983.5" r="5.5"/><circle cx="157.9" cy="980.5" r="5.5"/><circle cx="160.8" cy="978.0" r="5.5"/><circle cx="163.6" cy="975.9" r="5.5"/><circle cx="166.5" cy="974.2" r="5.5"/><circle cx="169.3" cy="972.7" r="5.5"/><circle cx="172.2" cy="971.6" r="5.5"/><circle cx="175.1" cy="970.6" r="5.5"/><circle cx="177.9" cy="969.8" r="5.5"/><circle cx="195.1" cy="994.6" r="5.5"/><circle cx="198.0" cy="979.6" r="5.5"/><circle cx="200.8" cy="973.4" r="5.5"/><circle cx="203.7" cy="968.3" r="5.5"/><circle cx="206.6" cy="964.2" r="5.5"/><circle cx="209.4" cy="960.8" r="5.5"/><circle cx="212.3" cy="958.0" r="5.5"/><circle cx="215.1" cy="955.7" r="5.5"/><circle cx="218.0" cy="953.9" r="5.5"/><circle cx="220.9" cy="952.3" r="5.5"/><circle cx="223.7" cy="951.1" r="5.5"/><circle cx="226.6" cy="950.1" r="5.5"/><circle cx="229.4" cy="949.2" r="5.5"/><circle cx="232.3" cy="948.5" r="5.5"/><circle cx="235.2" cy="948.0" r="5.5"/><circle cx="238.0" cy="947.5" r="5.5"/><circle cx="240.9" cy="947.1" r="5.5"/><circle cx="243.8" cy="946.8" r="5.5"/><circle cx="260.9" cy="990.4" r="5.5"/><circle cx="263.8" cy="960.8" r="5.5"/><circle cx="266.7" cy="956.3" r="5.5"/><circle cx="269.5" cy="952.7" r="5.5"/><circle cx="272.4" cy="949.6" r="5.5"/><circle cx="275.2" cy="947.2" r="5.5"/><circle cx="278.1" cy="945.2" r="5.5"/><circle cx="281.0" cy="943.5" r="5.5"/><circle cx="283.8" cy="942.2" r="5.5"/><circle cx="286.7" cy="941.1" r="5.5"/><circle cx="289.6" cy="940.1" r="5.5"/><circle cx="292.4" cy="939.4" r="5.5"/><circle cx="295.3" cy="938.8" r="5.5"/><circle cx="298.1" cy="938.3" r="5.5"/><circle cx="301.0" cy="937.9" r="5.5"/><circle cx="303.9" cy="937.6" r="5.5"/><circle cx="306.7" cy="937.3" r="5.5"/><circle cx="309.6" cy="937.1" r="5.5"/><circle cx="326.8" cy="992.6" r="5.5"/><circle cx="329.6" cy="966.1" r="5.5"/><circle cx="332.5" cy="958.6" r="5.5"/><circle cx="335.4" cy="952.9" r="5.5"/><circle cx="338.2" cy="948.5" r="5.5"/><circle cx="341.1" cy="945.1" r="5.5"/><circle cx="343.9" cy="942.6" r="5.5"/><circle cx="346.8" cy="940.6" r="5.5"/><circle cx="349.7" cy="939.1" r="5.5"/><circle cx="352.5" cy="938.0" r="5.5"/><circle cx="355.4" cy="937.1" r="5.5"/><circle cx="358.3" cy="936.5" r="5.5"/><circle cx="361.1" cy="936.0" r="5.5"/><circle cx="364.0" cy="935.6" r="5.5"/><circle cx="366.9" cy="935.3" r="5.5"/><circle cx="369.7" cy="935.1" r="5.5"/><circle cx="372.6" cy="934.9" r="5.5"/><circle cx="375.4" cy="934.8" r="5.5"/><circle cx="392.6" cy="996.3" r="5.5"/><circle cx="395.5" cy="971.6" r="5.5"/><circle cx="398.3" cy="960.8" r="5.5"/><circle cx="401.2" cy="952.9" r="5.5"/><circle cx="404.1" cy="946.9" r="5.5"/><circle cx="406.9" cy="942.6" r="5.5"/><circle cx="409.8" cy="939.3" r="5.5"/><circle cx="412.6" cy="936.9" r="5.5"/><circle cx="415.5" cy="935.2" r="5.5"/><circle cx="418.4" cy="933.8" r="5.5"/><circle cx="421.2" cy="932.9" r="5.5"/><circle cx="424.1" cy="932.1" r="5.5"/><circle cx="427.0" cy="931.6" r="5.5"/><circle cx="429.8" cy="931.2" r="5.5"/><circle cx="432.7" cy="930.9" r="5.5"/><circle cx="435.6" cy="930.7" r="5.5"/><circle cx="438.4" cy="930.5" r="5.5"/><circle cx="441.3" cy="930.4" r="5.5"/></g>
<g fill="#5b9bd5" stroke="#36679b" stroke-width="1.3"><circle cx="109.2" cy="1139.3" r="5.5"/><circle cx="112.1" cy="1069.3" r="5.5"/><circle cx="115.0" cy="1033.2" r="5.5"/><circle cx="117.8" cy="1012.7" r="5.5"/><circle cx="129.3" cy="1019.2" r="5.5"/><circle cx="132.1" cy="988.1" r="5.5"/><circle cx="135.0" cy="975.9" r="5.5"/><circle cx="137.8" cy="965.7" r="5.5"/><circle cx="140.7" cy="957.4" r="5.5"/><circle cx="143.6" cy="950.5" r="5.5"/><circle cx="146.4" cy="944.8" r="5.5"/><circle cx="149.3" cy="940.1" r="5.5"/><circle cx="152.2" cy="936.3" r="5.5"/><circle cx="155.0" cy="933.1" r="5.5"/><circle cx="157.9" cy="930.4" r="5.5"/><circle cx="160.8" cy="928.3" r="5.5"/><circle cx="163.6" cy="926.5" r="5.5"/><circle cx="166.5" cy="925.0" r="5.5"/><circle cx="169.3" cy="923.8" r="5.5"/><circle cx="172.2" cy="922.8" r="5.5"/><circle cx="175.1" cy="922.0" r="5.5"/><circle cx="177.9" cy="921.3" r="5.5"/><circle cx="195.1" cy="965.9" r="5.5"/><circle cx="198.0" cy="943.4" r="5.5"/><circle cx="200.8" cy="938.8" r="5.5"/><circle cx="203.7" cy="889.1" r="5.5"/><circle cx="206.6" cy="955.7" r="5.5"/><circle cx="209.4" cy="928.4" r="5.5"/><circle cx="212.3" cy="926.0" r="5.5"/><circle cx="215.1" cy="924.1" r="5.5"/><circle cx="218.0" cy="922.6" r="5.5"/><circle cx="220.9" cy="921.3" r="5.5"/><circle cx="223.7" cy="920.3" r="5.5"/><circle cx="226.6" cy="919.4" r="5.5"/><circle cx="229.4" cy="918.7" r="5.5"/><circle cx="232.3" cy="918.1" r="5.5"/><circle cx="235.2" cy="917.7" r="5.5"/><circle cx="238.0" cy="917.3" r="5.5"/><circle cx="240.9" cy="917.0" r="5.5"/><circle cx="243.8" cy="916.7" r="5.5"/><circle cx="260.9" cy="971.6" r="5.5"/><circle cx="263.8" cy="947.2" r="5.5"/><circle cx="266.7" cy="939.0" r="5.5"/><circle cx="269.5" cy="932.9" r="5.5"/><circle cx="272.4" cy="928.2" r="5.5"/><circle cx="275.2" cy="924.7" r="5.5"/><circle cx="278.1" cy="922.1" r="5.5"/><circle cx="281.0" cy="920.1" r="5.5"/><circle cx="283.8" cy="918.5" r="5.5"/><circle cx="286.7" cy="917.4" r="5.5"/><circle cx="289.6" cy="916.5" r="5.5"/><circle cx="292.4" cy="915.9" r="5.5"/><circle cx="295.3" cy="915.4" r="5.5"/><circle cx="298.1" cy="915.0" r="5.5"/><circle cx="301.0" cy="914.7" r="5.5"/><circle cx="303.9" cy="914.5" r="5.5"/><circle cx="306.7" cy="914.3" r="5.5"/><circle cx="309.6" cy="914.2" r="5.5"/><circle cx="326.8" cy="979.8" r="5.5"/><circle cx="329.6" cy="951.8" r="5.5"/><circle cx="332.5" cy="942.2" r="5.5"/><circle cx="335.4" cy="935.0" r="5.5"/><circle cx="338.2" cy="929.8" r="5.5"/><circle cx="341.1" cy="925.9" r="5.5"/><circle cx="343.9" cy="923.0" r="5.5"/><circle cx="346.8" cy="920.8" r="5.5"/><circle cx="349.7" cy="919.2" r="5.5"/><circle cx="352.5" cy="918.1" r="5.5"/><circle cx="355.4" cy="917.2" r="5.5"/><circle cx="358.3" cy="916.5" r="5.5"/><circle cx="361.1" cy="916.1" r="5.5"/><circle cx="364.0" cy="915.7" r="5.5"/><circle cx="366.9" cy="915.5" r="5.5"/><circle cx="369.7" cy="915.3" r="5.5"/><circle cx="372.6" cy="915.1" r="5.5"/><circle cx="375.4" cy="915.0" r="5.5"/><circle cx="392.6" cy="991.0" r="5.5"/><circle cx="395.5" cy="957.9" r="5.5"/><circle cx="398.3" cy="945.3" r="5.5"/><circle cx="401.2" cy="936.2" r="5.5"/><circle cx="404.1" cy="929.7" r="5.5"/><circle cx="406.9" cy="925.0" r="5.5"/><circle cx="409.8" cy="921.6" r="5.5"/><circle cx="412.6" cy="919.2" r="5.5"/><circle cx="415.5" cy="917.5" r="5.5"/><circle cx="418.4" cy="916.2" r="5.5"/><circle cx="421.2" cy="915.3" r="5.5"/><circle cx="424.1" cy="914.6" r="5.5"/><circle cx="427.0" cy="914.2" r="5.5"/><circle cx="429.8" cy="913.8" r="5.5"/><circle cx="432.7" cy="913.6" r="5.5"/><circle cx="435.6" cy="913.4" r="5.5"/><circle cx="438.4" cy="913.3" r="5.5"/><circle cx="441.3" cy="913.2" r="5.5"/></g>
<circle cx="320" cy="1118.7" r="5.9" fill="#c8c9cc" stroke="#8e8e8e" stroke-width="1.2"/>
<text x="335" y="1127.0" font-size="27" text-anchor="start" font-weight="normal" fill="#7f7f7f">Baseline</text>
<circle cx="320" cy="1151.3" r="5.9" fill="#5b9bd5" stroke="#36679b" stroke-width="1.2"/>
<text x="335" y="1159.6" font-size="27" text-anchor="start" font-weight="normal" fill="#2e75b6">TMSPi</text>
<circle cx="320" cy="1183.5" r="5.9" fill="#ef7f30" stroke="#b2581c" stroke-width="1.2"/>
<text x="335" y="1191.8" font-size="27" text-anchor="start" font-weight="normal" fill="#ed7d31">TEPi</text>
</svg></body></html>
